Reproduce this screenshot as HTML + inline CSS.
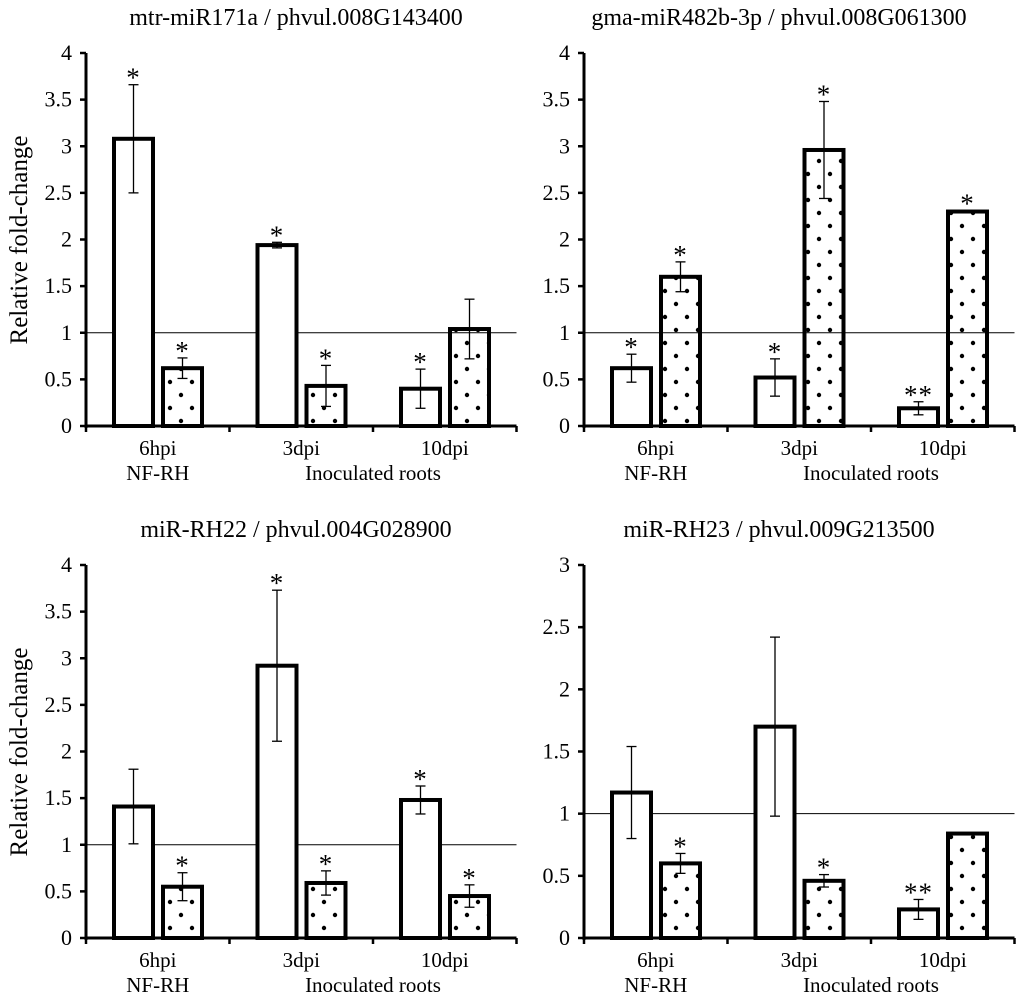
<!DOCTYPE html>
<html><head><meta charset="utf-8"><style>
html,body{margin:0;padding:0;background:#fff;}
svg{display:block;font-family:"Liberation Serif",serif;}
</style></head><body>
<svg id="fig" width="1024" height="1002" viewBox="0 0 1024 1002">
<defs>
<pattern id="dots" patternUnits="userSpaceOnUse" width="22" height="26">
<circle cx="5" cy="5" r="2.2" fill="#000"/><circle cx="16" cy="18" r="2.2" fill="#000"/>
</pattern>
</defs>
</svg>
<script>
const categories = ["6hpi","3dpi","10dpi"];
const titles = ["mtr-miR171a / phvul.008G143400","gma-miR482b-3p / phvul.008G061300","miR-RH22 / phvul.004G028900","miR-RH23 / phvul.009G213500"];
const yMaxes = [4,4,4,3];
const whiteVals = [[3.08,1.94,0.40],[0.62,0.52,0.19],[1.41,2.92,1.48],[1.17,1.70,0.23]];
const whiteErr = [[0.58,0.03,0.21],[0.15,0.20,0.07],[0.40,0.81,0.15],[0.37,0.72,0.08]];
const dotVals = [[0.62,0.43,1.04],[1.60,2.96,2.30],[0.55,0.59,0.45],[0.60,0.46,0.84]];
const dotErr = [[0.11,0.22,0.32],[0.16,0.52,0.01],[0.15,0.13,0.12],[0.08,0.05,0.00]];
const whiteStars = [["*","*","*"],["*","*","**"],["","*","*"],["","","**"]];
const dotStars = [["*","*",""],["*","*","*"],["*","*","*"],["*","*",""]];

const NS="http://www.w3.org/2000/svg";
const svg=document.getElementById('fig');
function mk(tag,attrs,parent){const e=document.createElementNS(NS,tag);for(const k in attrs)e.setAttribute(k,attrs[k]);(parent||svg).appendChild(e);return e;}

const panels=[{x0:86,y0:426,h:373,ylab:true},{x0:584,y0:426,h:373,ylab:false},{x0:86,y0:938,h:373,ylab:true},{x0:584,y0:938,h:373,ylab:false}];
const catW=143.5;

panels.forEach((p,pi)=>{
  const g=mk('g',{});
  
  
  const yMax=yMaxes[pi];
  const y=v=>p.y0-v/yMax*p.h;
  const xEnd=p.x0+catW*3;
  const t=mk('text',{x:p.x0+ (pi%2?70:85)+125,y:p.y0-401,'font-size':24,'text-anchor':'middle'},g);
  t.textContent=titles[pi];
  
  
  const ax=mk('line',{x1:p.x0,y1:y(yMax),x2:p.x0,y2:p.y0+2,stroke:'#000','stroke-width':3},g);
  
  
  for(let v=0;v<=yMax+1e-9;v+=0.5){
    mk('line',{x1:p.x0-6,y1:y(v),x2:p.x0,y2:y(v),stroke:'#000','stroke-width':2.5},g);
    const tl=mk('text',{x:p.x0-14,y:y(v)+7,'font-size':22,'text-anchor':'end'},g);
    tl.textContent=String(Math.round(v*10)/10);
    
    
  }
  const xa=mk('line',{x1:p.x0,y1:p.y0,x2:xEnd,y2:p.y0,stroke:'#000','stroke-width':3},g);
  
  
  for(let i=0;i<=3;i++)mk('line',{x1:p.x0+catW*i,y1:p.y0,x2:p.x0+catW*i,y2:p.y0+6,stroke:'#000','stroke-width':2.5},g);
  const rl=mk('line',{x1:p.x0,y1:y(1),x2:xEnd,y2:y(1),stroke:'#000','stroke-width':1},g);
  
  
  categories.forEach((c,i)=>{
    const cx=p.x0+catW*i;
    [[whiteVals,whiteErr,whiteStars,'#fff',28],[dotVals,dotErr,dotStars,'url(#dots)',77]].forEach(([vals,errs,stars,fill,off],si)=>{
      const v=vals[pi][i],e=errs[pi][i];
      const bx=cx+off,bw=39,bc=bx+bw/2;
      const r=mk('rect',{x:bx,y:y(v),width:bw,height:p.y0-y(v),fill:fill,stroke:'#000','stroke-width':4},g);
      
      
      if(e>0){
        mk('line',{x1:bc,y1:y(v+e),x2:bc,y2:y(v-e),stroke:'#000','stroke-width':1.3},g);
        mk('line',{x1:bc-5,y1:y(v+e),x2:bc+5,y2:y(v+e),stroke:'#000','stroke-width':1.3},g);
        mk('line',{x1:bc-5,y1:y(v-e),x2:bc+5,y2:y(v-e),stroke:'#000','stroke-width':1.3},g);
      }
      const s=stars[pi][i];
      if(s){
        const st=mk('text',{x:bc,y:y(v+e)+2,'font-size':27,'text-anchor':'middle','letter-spacing':'1'},g);
        st.textContent=s;
        
        
      }
    });
    const cl=mk('text',{x:cx+catW/2,y:p.y0+29,'font-size':21,'text-anchor':'middle'},g);
    cl.textContent=c;
    
    
  });
  const g1=mk('text',{x:p.x0+catW/2,y:p.y0+54,'font-size':21,'text-anchor':'middle'},g);
  g1.textContent='NF-RH';
  
  
  const g2=mk('text',{x:p.x0+catW*2,y:p.y0+54,'font-size':21,'text-anchor':'middle'},g);
  g2.textContent='Inoculated roots';
  
  
  if(p.ylab){
    const yl=mk('text',{x:0,y:0,'font-size':25,'text-anchor':'middle',transform:`translate(27,${p.y0-186}) rotate(-90)`},g);
    yl.textContent='Relative fold-change';
    
    
  }
});
</script>
</body></html>
